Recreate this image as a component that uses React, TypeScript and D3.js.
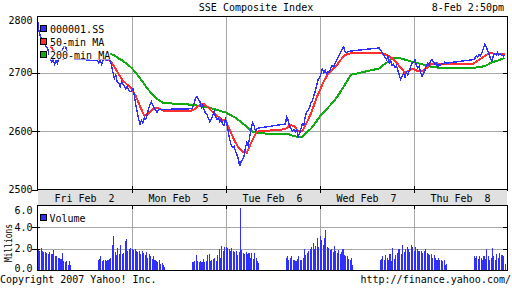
import React from "react";
import * as d3 from "d3";

const dayLabels = ["Fri Feb  2", "Mon Feb  5", "Tue Feb  6", "Wed Feb  7", "Thu Feb  8"];
const priceTicks = [2500, 2600, 2700, 2800];
const volumeTicks = [0, 2, 4, 6];
const maSlots = [0, 3, 6, 9, 12, 15, 18, 22];

// 5-minute prices: 24 morning slots (9:30-11:25) then afternoon slots (13:00-)
const priceFri = [2790, 2772, 2762, 2755, 2752, 2748, 2745, 2742, 2732, 2724, 2718, 2722, 2714, 2720, 2716, 2724, 2730, 2736, 2742, 2745, 2742, 2735, 2728, 2724,
  2720, 2716, 2722, 2714, 2720, 2722, 2722, 2721, 2723, 2720, 2712, 2700, 2690, 2696, 2684, 2682, 2676, 2684, 2680, 2676, 2672, 2676, 2670, 2668];
const priceMon = [2668, 2672, 2660, 2645, 2632, 2620, 2612, 2618, 2614, 2622, 2620, 2628, 2638, 2645, 2650, 2644, 2640, 2635, 2632, 2636, 2637, 2637, 2637, 2637,
  2638, 2640, 2648, 2656, 2659, 2654, 2650, 2640, 2644, 2636, 2630, 2628, 2622, 2616, 2620, 2626, 2634, 2624, 2620, 2622, 2616, 2620, 2612, 2610];
const priceTue = [2620, 2612, 2598, 2585, 2576, 2572, 2574, 2566, 2560, 2552, 2540, 2548, 2552, 2556, 2572, 2580, 2575, 2590, 2605, 2614, 2610, 2600, 2604, 2605,
  2612, 2624, 2618, 2608, 2604, 2600, 2603, 2598, 2602, 2590, 2596, 2604, 2612, 2610, 2625, 2632, 2636, 2640, 2648, 2652, 2660, 2668, 2678, 2688];
const priceWed = [2690, 2698, 2706, 2700, 2704, 2698, 2702, 2700, 2708, 2712, 2710, 2716, 2720, 2726, 2730, 2736, 2740, 2744, 2735, 2734, 2736, 2736, 2737, 2737,
  2742, 2738, 2734, 2730, 2726, 2722, 2728, 2716, 2720, 2712, 2714, 2708, 2712, 2704, 2696, 2688, 2694, 2698, 2692, 2700, 2696, 2702, 2710, 2716];
const priceThu = [2718, 2722, 2712, 2708, 2710, 2700, 2694, 2698, 2704, 2712, 2716, 2712, 2720, 2722, 2718, 2714, 2716, 2710, 2714, 2712, 2716, 2714, 2718, 2716,
  2722, 2724, 2728, 2726, 2730, 2728, 2734, 2740, 2748, 2744, 2738, 2732, 2724, 2720, 2728, 2732, 2730, 2734, 2730, 2732, 2730, 2728, 2729];

// moving averages at maSlots (8 morning + 8 afternoon)
const ma50Fri = [null, null, null, 2745, 2735, 2726, 2723, 2729, 2724, 2723, 2722, 2720, 2710, 2697, 2686, 2677];
const ma50Mon = [2672, 2660, 2642, 2626, 2630, 2638, 2640, 2635, 2635, 2638, 2645, 2646, 2640, 2632, 2626, 2619];
const ma50Tue = [2618, 2602, 2585, 2572, 2564, 2563, 2580, 2599, 2603, 2610, 2609, 2600, 2600, 2614, 2630, 2657];
const ma50Wed = [2668, 2685, 2697, 2705, 2712, 2722, 2730, 2733, 2733, 2732, 2729, 2724, 2718, 2708, 2700, 2705];
const ma50Thu = [2706, 2702, 2702, 2707, 2714, 2716, 2715, 2714, 2715, 2720, 2725, 2730, 2733, 2732, 2731, 2731];

const ma200Fri = [null, null, null, null, null, null, null, null, null, null, null, 2732, 2729, 2724, 2720, 2712];
const ma200Mon = [2708, 2700, 2690, 2680, 2670, 2662, 2655, 2648, 2645, 2644, 2643, 2641, 2640, 2638, 2636, 2633];
const ma200Tue = [2632, 2628, 2624, 2619, 2613, 2607, 2600, 2596, 2595, 2594, 2591, 2590, 2590, 2598, 2604, 2617];
const ma200Wed = [2624, 2632, 2640, 2648, 2657, 2668, 2680, 2696, 2707, 2713, 2718, 2724, 2725, 2724, 2722, 2719];
const ma200Thu = [2718, 2716, 2714, 2712, 2710, 2709, 2708, 2708, 2708, 2709, 2710, 2712, 2716, 2719, 2721, 2725];

// volume in millions, per 5-minute bar
const volFri = [1.9, 1.8, 2.1, 1.8, 1.7, 1.7, 1.6, 1.5, 1.7, 1.5, 1.5, 1.9, 1.3, 1.3, 1.2, 1.2, 1.1, 1.6, 0.9, 0.8, 0.9, 0.5, 0.9, 0.5,
  1.0, 1.1, 1.3, 0.9, 1.0, 1.0, 0.9, 1.0, 1.1, 1.2, 2.4, 3.2, 1.7, 1.4, 2.1, 1.5, 2.4, 1.5, 1.6, 2.7, 2.9, 1.8, 2.0, 2.1];
const volMon = [2.0, 1.9, 2.0, 1.8, 1.7, 1.8, 1.5, 1.8, 1.6, 1.4, 1.7, 1.2, 1.5, 1.3, 1.1, 1.3, 1.0, 0.9, 0.8, 1.0, 0.6, 0.7, 0.5, 0.3,
  0.8, 0.8, 0.9, 1.4, 0.9, 0.8, 0.9, 0.8, 1.1, 0.8, 0.9, 1.4, 1.5, 0.9, 1.0, 1.1, 1.2, 0.9, 1.4, 2.0, 1.2, 2.3, 1.8, 2.2];
const volTue = [2.2, 2.1, 2.0, 1.8, 2.1, 1.8, 1.7, 1.8, 1.4, 1.7, 5.8, 1.9, 1.6, 1.5, 1.7, 1.5, 1.6, 1.2, 1.6, 1.1, 1.6, 1.2, 0.9, 0.7,
  1.2, 1.3, 1.0, 1.2, 1.3, 1.0, 1.0, 0.9, 1.1, 1.3, 1.0, 1.0, 1.2, 2.0, 1.4, 1.6, 1.8, 2.0, 2.2, 2.5, 2.0, 2.3, 3.0, 2.2];
const volWed = [3.2, 2.8, 2.4, 3.0, 3.7, 2.2, 2.1, 1.9, 2.0, 1.7, 2.3, 1.8, 1.6, 1.9, 1.5, 1.7, 2.0, 1.4, 1.3, 1.3, 1.1, 1.0, 1.2, 0.5,
  1.0, 1.1, 1.3, 1.0, 1.4, 1.2, 1.0, 1.5, 0.9, 2.1, 1.1, 1.4, 1.6, 2.0, 2.0, 1.5, 2.4, 1.7, 2.0, 2.2, 2.0, 1.7, 2.4, 2.2];
const volThu = [1.8, 2.2, 2.0, 1.8, 1.8, 1.8, 1.6, 1.8, 2.0, 1.6, 1.5, 1.4, 1.5, 1.2, 1.4, 1.2, 1.0, 1.2, 1.0, 1.0, 0.9, 1.0, 0.5, 0.6,
  1.3, 1.2, 1.3, 1.1, 1.3, 1.2, 1.0, 1.3, 1.1, 2.0, 1.3, 1.0, 1.2, 2.1, 1.3, 1.0, 1.5, 1.2, 1.6, 1.4, 1.4, 1.3, 0.6];

const priceDays = [priceFri, priceMon, priceTue, priceWed, priceThu];
const ma50Days = [ma50Fri, ma50Mon, ma50Tue, ma50Wed, ma50Thu];
const ma200Days = [ma200Fri, ma200Mon, ma200Tue, ma200Wed, ma200Thu];
const volDays = [volFri, volMon, volTue, volWed, volThu];

const DAY_MIN = 330; // 9:30-15:00
const PM_OFFSET = 210; // 13:00 after 9:30

const slotMinute = (d: number, i: number) => d * DAY_MIN + (i < 24 ? 0 : PM_OFFSET) + (i % 24) * 5;
const maMinute = (d: number, j: number) => d * DAY_MIN + (j < 8 ? 0 : PM_OFFSET) + maSlots[j % 8] * 5;

const FONT = "'DejaVu Sans Mono', monospace";
const BLUE = "#2f2fff";
const RED = "#ff3030";
const GREEN = "#11aa11";
const GRID = "#a8a8a8";

export default function App() {
  const x = d3.scaleLinear().domain([0, DAY_MIN * 5]).range([37.5, 507.5]);
  const yP = d3.scaleLinear().domain([2500, 2800]).range([189.5, 14]);
  const yV = d3.scaleLinear().domain([0, 6]).range([270.5, 205.5]);

  const pricePts: [number, number][] = [];
  priceDays.forEach((arr, d) => arr.forEach((v, i) => pricePts.push([slotMinute(d, i), v])));
  const ma50Pts: [number, number | null][] = [];
  ma50Days.forEach((arr, d) => arr.forEach((v, j) => ma50Pts.push([maMinute(d, j), v])));
  const ma200Pts: [number, number | null][] = [];
  ma200Days.forEach((arr, d) => arr.forEach((v, j) => ma200Pts.push([maMinute(d, j), v])));
  const volBars: { m: number; v: number }[] = [];
  volDays.forEach((arr, d) => arr.forEach((v, i) => volBars.push({ m: slotMinute(d, i), v })));

  const line = d3
    .line<[number, number | null]>()
    .defined((p) => p[1] != null)
    .x((p) => x(p[0]))
    .y((p) => yP(p[1] as number));

  const dayBounds = [1, 2, 3, 4].map((d) => d * DAY_MIN);
  const legendRows = [
    { label: "000001.SS", color: BLUE },
    { label: "50-min MA", color: RED },
    { label: "200-min MA", color: GREEN },
  ];
  const barW = x(5) - x(0);

  return (
    <svg width={512} height={288} style={{ position: "absolute", left: 0, top: 0, background: "#fff" }} fontFamily={FONT} fontSize={10}>
      <rect x={0} y={0} width={512} height={288} fill="#fff" />
      <text x={256} y={11} textAnchor="middle">SSE Composite Index</text>
      <text x={504} y={11} textAnchor="end">8-Feb 2:50pm</text>

      {/* main panel grid */}
      {dayBounds.map((m) => (
        <line key={"vg" + m} x1={Math.round(x(m)) + 0.5} x2={Math.round(x(m)) + 0.5} y1={17} y2={189} stroke={GRID} />
      ))}
      {priceTicks.filter((t) => t > 2500 && t < 2800).map((t) => (
        <line key={"hg" + t} x1={38} x2={507} y1={Math.round(yP(t)) + 0.5} y2={Math.round(yP(t)) + 0.5} stroke={GRID} />
      ))}

      {/* lines */}
      <g shapeRendering="crispEdges" fill="none">
        <path d={line(ma200Pts) || ""} stroke={GREEN} strokeWidth={2} />
        <path d={line(ma50Pts) || ""} stroke={RED} strokeWidth={2} />
        <path d={line(pricePts) || ""} stroke={BLUE} strokeWidth={1.4} />
      </g>

      {/* legend */}
      {legendRows.map((r, i) => (
        <g key={r.label}>
          <rect x={49} y={24.5 + i * 13} width={r.label.length * 6.02 + 1} height={9} fill="#fff" />
          <rect x={40.5} y={25.5 + i * 13} width={6} height={6} fill={r.color} stroke="#000" />
          <text x={50} y={32.5 + i * 13}>{r.label}</text>
        </g>
      ))}

      {/* main frame */}
      <rect x={37.5} y={16.5} width={470} height={173} fill="none" stroke="#000" />
      {priceTicks.map((t) => (
        <g key={"pt" + t}>
          {t < 2800 && (
            <>
              <line x1={32} x2={40} y1={Math.round(yP(t)) + 0.5} y2={Math.round(yP(t)) + 0.5} stroke="#000" />
              <line x1={503} x2={508} y1={Math.round(yP(t)) + 0.5} y2={Math.round(yP(t)) + 0.5} stroke="#000" />
            </>
          )}
          <text x={32.5} y={Math.max(yP(t), 20) + 3.5} textAnchor="end">{t}</text>
        </g>
      ))}

      {/* day band */}
      <rect x={38} y={190} width={469} height={15} fill="#e0e0e0" />
      {dayBounds.map((m) => (
        <line key={"bt" + m} x1={Math.round(x(m)) + 0.5} x2={Math.round(x(m)) + 0.5} y1={186} y2={193} stroke="#000" />
      ))}
      {dayLabels.map((l, d) => (
        <text key={l} x={x(d * DAY_MIN + DAY_MIN / 2)} y={202} textAnchor="middle" style={{ whiteSpace: "pre" }}>{l}</text>
      ))}

      {/* volume panel */}
      {dayBounds.map((m) => (
        <line key={"vvg" + m} x1={Math.round(x(m)) + 0.5} x2={Math.round(x(m)) + 0.5} y1={206} y2={270} stroke={GRID} />
      ))}
      {volumeTicks.filter((t) => t > 0 && t < 6).map((t) => (
        <line key={"vhg" + t} x1={38} x2={507} y1={Math.round(yV(t)) + 0.5} y2={Math.round(yV(t)) + 0.5} stroke={GRID} />
      ))}
      <g shapeRendering="crispEdges">
        {volBars.map((b, i) => (
          <rect key={i} x={x(b.m) + 0.2} y={yV(b.v)} width={barW - 0.4} height={yV(0) - yV(b.v)} fill={BLUE} />
        ))}
      </g>
      <rect x={40.5} y={214.5} width={6} height={6} fill={BLUE} stroke="#000" />
      <text x={49.5} y={222}>Volume</text>
      <rect x={37.5} y={205.5} width={470} height={65} fill="none" stroke="#000" />
      {dayBounds.map((m) => (
        <line key={"vt" + m} x1={Math.round(x(m)) + 0.5} x2={Math.round(x(m)) + 0.5} y1={205} y2={209} stroke="#000" />
      ))}
      {volumeTicks.map((t) => (
        <g key={"vt" + t}>
          {t > 0 && t < 6 && (
            <>
              <line x1={32} x2={40} y1={Math.round(yV(t)) + 0.5} y2={Math.round(yV(t)) + 0.5} stroke="#000" />
              <line x1={503} x2={508} y1={Math.round(yV(t)) + 0.5} y2={Math.round(yV(t)) + 0.5} stroke="#000" />
            </>
          )}
          <text x={32.5} y={Math.min(Math.max(yV(t), 210), 268.5) + 3.5} textAnchor="end">{t.toFixed(1)}</text>
        </g>
      ))}
      <text transform="translate(11.5,243) rotate(-90)" textAnchor="middle" textLength={38} lengthAdjust="spacingAndGlyphs">Millions</text>

      <text x={0} y={283}>Copyright 2007 Yahoo! Inc.</text>
      <text x={511} y={283} textAnchor="end">http://finance.yahoo.com/</text>
    </svg>
  );
}
